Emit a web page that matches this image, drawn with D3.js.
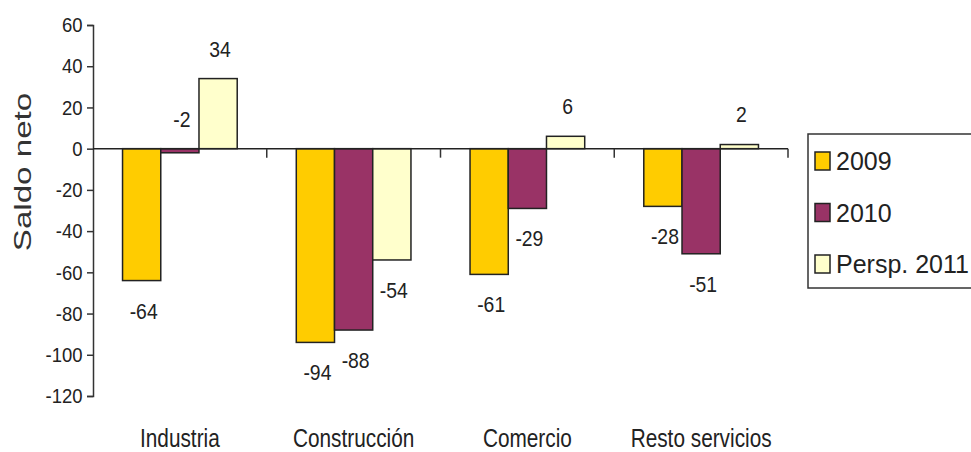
<!DOCTYPE html>
<html lang="es">
<head>
    <meta charset="UTF-8">
    <title>Saldo neto por sector</title>
    <script src="https://d3js.org/d3.v7.min.js"></script>
    <style>
        body { margin: 0; background: #fff; }
        text { fill: #222; }
    </style>
</head>
<body>
<script>
// data
var categories = ["Industria", "Construcción", "Comercio", "Resto servicios"];
var seriesNames = ["2009", "2010", "Persp. 2011"];
var values2009 = [-64, -94, -61, -28];
var values2010 = [-2, -88, -29, -51];
var valuesPersp = [34, -54, 6, 2];
var yTicks = [60, 40, 20, 0, -20, -40, -60, -80, -100, -120];
var colors = ["#ffcc00", "#993366", "#ffffcc"];

var allValues = [values2009, values2010, valuesPersp];

var svg = d3.select("body")
    .append("svg")
    .attr("width", 971)
    .attr("height", 452);

var y = d3.scaleLinear().domain([-120, 60]).range([396, 25]);
var x0 = d3.scaleBand().domain(categories).range([93, 788]);
var bw = x0.bandwidth();
var x1 = d3.scaleBand().domain(seriesNames).range([bw * 0.17, bw * 0.83]);

var font = "'Liberation Sans', Arial, sans-serif";

// y axis (hyphen minus like the original, narrowed glyphs)
var yAxis = svg.append("g")
    .attr("transform", "translate(93,0)")
    .call(d3.axisLeft(y).tickValues(yTicks).tickSize(6).tickPadding(6)
        .tickFormat(function(d) { return String(d); }));
yAxis.select(".domain").attr("stroke", "#333").attr("stroke-width", 1.5);
yAxis.selectAll(".tick line").attr("stroke", "#333").attr("stroke-width", 1.5);
yAxis.selectAll(".tick text")
    .attr("font-family", font)
    .attr("font-size", 21)
    .attr("fill", "#222")
    .attr("transform", "scale(0.88,1)");

svg.append("text")
    .attr("transform", "translate(31,172) rotate(-90) scale(1.38,1)")
    .attr("text-anchor", "middle")
    .attr("font-family", font)
    .attr("font-size", 24)
    .style("fill", "#333")
    .text("Saldo neto");

// bars
var rows = [];
categories.forEach(function(c, i) {
    seriesNames.forEach(function(s, j) {
        rows.push({cat: c, name: s, value: allValues[j][i], color: colors[j]});
    });
});

svg.selectAll("rect.bar")
    .data(rows)
    .enter()
    .append("rect")
    .attr("class", "bar")
    .attr("x", function(d) { return x0(d.cat) + x1(d.name); })
    .attr("y", function(d) { return y(Math.max(0, d.value)); })
    .attr("width", x1.bandwidth())
    .attr("height", function(d) { return Math.abs(y(d.value) - y(0)); })
    .attr("fill", function(d) { return d.color; })
    .attr("stroke", "#222")
    .attr("stroke-width", 1.5);

// zero line and category ticks
var xAxis = svg.append("g")
    .attr("transform", "translate(0," + y(0) + ")");
xAxis.append("line")
    .attr("x1", 93).attr("x2", 788)
    .attr("stroke", "#222").attr("stroke-width", 1.5);
xAxis.selectAll("line.ct")
    .data(categories.slice(1).concat(["end"]))
    .enter()
    .append("line")
    .attr("class", "ct")
    .attr("x1", function(d) { return d === "end" ? 788 : x0(d); })
    .attr("x2", function(d) { return d === "end" ? 788 : x0(d); })
    .attr("y1", 0).attr("y2", 9)
    .attr("stroke", "#333").attr("stroke-width", 1.5);

svg.selectAll("text.cat")
    .data(categories)
    .enter()
    .append("text")
    .attr("class", "cat")
    .attr("transform", function(d) {
        return "translate(" + (x0(d) + bw / 2) + ",447) scale(0.8,1)";
    })
    .attr("text-anchor", "middle")
    .attr("font-family", font)
    .attr("font-size", 26)
    .text(function(d) { return d; });

// value labels, small values sit above the zero line
svg.selectAll("text.val")
    .data(rows)
    .enter()
    .append("text")
    .attr("class", "val")
    .attr("transform", function(d) {
        var cx = x0(d.cat) + x1(d.name) + x1.bandwidth() / 2 + 2;
        var cy = (d.value >= 0 || d.value > -5) ? y(Math.max(0, d.value)) - 30 : y(d.value) + 30;
        return "translate(" + cx + "," + cy + ") scale(0.88,1)";
    })
    .attr("dy", "0.36em")
    .attr("text-anchor", "middle")
    .attr("font-family", font)
    .attr("font-size", 22)
    .text(function(d) { return d.value; });

// legend
var legend = svg.append("g").attr("transform", "translate(808,134)");
legend.append("rect")
    .attr("width", 200).attr("height", 154)
    .attr("fill", "#fff").attr("stroke", "#333").attr("stroke-width", 1.5);
var item = legend.selectAll("g.item")
    .data(seriesNames)
    .enter()
    .append("g")
    .attr("class", "item")
    .attr("transform", function(d, i) { return "translate(0," + (27 + i * 51.5) + ")"; });
item.append("rect")
    .attr("x", 7).attr("y", -9)
    .attr("width", 15).attr("height", 18)
    .attr("fill", function(d, i) { return colors[i]; })
    .attr("stroke", "#222").attr("stroke-width", 1.5);
item.append("text")
    .attr("transform", "translate(28,0)")
    .attr("dy", "0.36em")
    .attr("font-family", font)
    .attr("font-size", 25)
    .text(function(d) { return d; });
</script>
</body>
</html>
